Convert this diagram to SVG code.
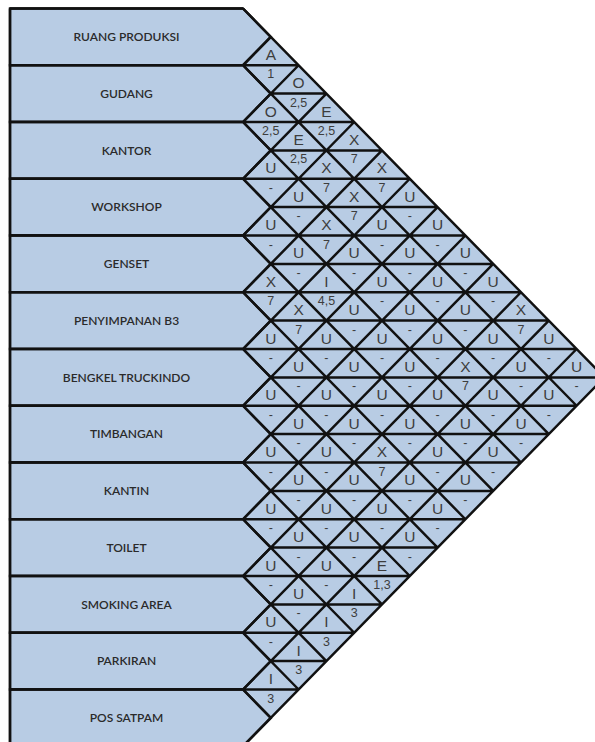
<svg xmlns="http://www.w3.org/2000/svg" width="595" height="742" viewBox="0 0 595 742">
<style>
.box{fill:#b8cce4;stroke:#111;stroke-width:2.4;stroke-linejoin:miter}
.lbl{font-family:Lato,"Liberation Sans",sans-serif;font-size:12px;font-weight:600;fill:#2a2a2a;text-anchor:middle}
.grid{fill:none;stroke:#111;stroke-width:2.5}
.c text{font-family:"Liberation Sans",Arial,sans-serif;fill:#3d3d3d;text-anchor:middle}
.l{font-size:15.5px}
.n{font-size:12.5px}
</style>
<rect width="595" height="742" fill="#fff"/>
<polygon points="243,8.5 604.4,377.4 243,746.25" fill="#b8cce4"/>
<g id="ruang-produksi"><polygon class="box" points="10,8.5 243,8.5 270.8,36.9 243,65.25 10,65.25"/><text class="lbl" x="126.5" y="41.2">RUANG PRODUKSI</text></g>
<g id="gudang"><polygon class="box" points="10,65.25 243,65.25 270.8,93.6 243,122 10,122"/><text class="lbl" x="126.5" y="97.9">GUDANG</text></g>
<g id="kantor"><polygon class="box" points="10,122 243,122 270.8,150.4 243,178.75 10,178.75"/><text class="lbl" x="126.5" y="154.7">KANTOR</text></g>
<g id="workshop"><polygon class="box" points="10,178.75 243,178.75 270.8,207.1 243,235.5 10,235.5"/><text class="lbl" x="126.5" y="211.4">WORKSHOP</text></g>
<g id="genset"><polygon class="box" points="10,235.5 243,235.5 270.8,263.9 243,292.25 10,292.25"/><text class="lbl" x="126.5" y="268.2">GENSET</text></g>
<g id="penyimpanan-b3"><polygon class="box" points="10,292.25 243,292.25 270.8,320.6 243,349 10,349"/><text class="lbl" x="126.5" y="324.9">PENYIMPANAN B3</text></g>
<g id="bengkel-truckindo"><polygon class="box" points="10,349 243,349 270.8,377.4 243,405.75 10,405.75"/><text class="lbl" x="126.5" y="381.7">BENGKEL TRUCKINDO</text></g>
<g id="timbangan"><polygon class="box" points="10,405.75 243,405.75 270.8,434.1 243,462.5 10,462.5"/><text class="lbl" x="126.5" y="438.4">TIMBANGAN</text></g>
<g id="kantin"><polygon class="box" points="10,462.5 243,462.5 270.8,490.9 243,519.25 10,519.25"/><text class="lbl" x="126.5" y="495.2">KANTIN</text></g>
<g id="toilet"><polygon class="box" points="10,519.25 243,519.25 270.8,547.6 243,576 10,576"/><text class="lbl" x="126.5" y="551.9">TOILET</text></g>
<g id="smoking-area"><polygon class="box" points="10,576 243,576 270.8,604.4 243,632.75 10,632.75"/><text class="lbl" x="126.5" y="608.7">SMOKING AREA</text></g>
<g id="parkiran"><polygon class="box" points="10,632.75 243,632.75 270.8,661.1 243,689.5 10,689.5"/><text class="lbl" x="126.5" y="665.4">PARKIRAN</text></g>
<g id="pos-satpam"><polygon class="box" points="10,689.5 243,689.5 270.8,717.9 243,746.25 10,746.25"/><text class="lbl" x="126.5" y="722.2">POS SATPAM</text></g>
<g id="connectors">
<path class="grid" d="M243 8.5L604.4 377.4M243 65.25L576.6 405.75M243 122L548.8 434.1M243 178.75L521 462.5M243 235.5L493.2 490.9M243 292.25L465.4 519.25M243 349L437.6 547.6M243 405.75L409.8 576M243 462.5L382 604.4M243 519.25L354.2 632.75M243 576L326.4 661.1M243 632.75L298.6 689.5M243 689.5L270.8 717.9
M243 65.25L270.8 36.9M243 122L298.6 65.25M243 178.75L326.4 93.6M243 235.5L354.2 122M243 292.25L382 150.4M243 349L409.8 178.75M243 405.75L437.6 207.1M243 462.5L465.4 235.5M243 519.25L493.2 263.9M243 576L521 292.25M243 632.75L548.8 320.6M243 689.5L576.6 349M243 746.25L604.4 377.4
M10 8.5H243M10 65.25H298.6M10 122H354.2M10 178.75H409.8M10 235.5H465.4M10 292.25H521M10 349H576.6M10 405.75H576.6M10 462.5H521M10 519.25H465.4M10 576H409.8M10 632.75H354.2M10 689.5H298.6
M270.8 93.6H326.4M270.8 150.4H382M270.8 207.1H437.6M270.8 263.9H493.2M270.8 320.6H548.8M270.8 377.4H604.4M270.8 434.1H548.8M270.8 490.9H493.2M270.8 547.6H437.6M270.8 604.4H382M270.8 661.1H326.4
M10 8.5V746"/>
</g>
<g id="cells" class="c">
<g transform="translate(270.8,65.25)"><text class="l" y="-5.5">A</text><text class="n" y="13">1</text></g>
<g transform="translate(298.6,93.6)"><text class="l" y="-5.5">O</text><text class="n" y="13">2,5</text></g>
<g transform="translate(326.4,122)"><text class="l" y="-5.5">E</text><text class="n" y="13">2,5</text></g>
<g transform="translate(354.2,150.4)"><text class="l" y="-5.5">X</text><text class="n" y="13">7</text></g>
<g transform="translate(382,178.75)"><text class="l" y="-5.5">X</text><text class="n" y="13">7</text></g>
<g transform="translate(409.8,207.1)"><text class="l" y="-5.5">U</text><text class="n" y="13">-</text></g>
<g transform="translate(437.6,235.5)"><text class="l" y="-5.5">U</text><text class="n" y="13">-</text></g>
<g transform="translate(465.4,263.9)"><text class="l" y="-5.5">U</text><text class="n" y="13">-</text></g>
<g transform="translate(493.2,292.25)"><text class="l" y="-5.5">U</text><text class="n" y="13">-</text></g>
<g transform="translate(521,320.6)"><text class="l" y="-5.5">X</text><text class="n" y="13">7</text></g>
<g transform="translate(548.8,349)"><text class="l" y="-5.5">U</text><text class="n" y="13">-</text></g>
<g transform="translate(576.6,377.4)"><text class="l" y="-5.5">U</text><text class="n" y="13">-</text></g>
<g transform="translate(270.8,122)"><text class="l" y="-5.5">O</text><text class="n" y="13">2,5</text></g>
<g transform="translate(298.6,150.4)"><text class="l" y="-5.5">E</text><text class="n" y="13">2,5</text></g>
<g transform="translate(326.4,178.75)"><text class="l" y="-5.5">X</text><text class="n" y="13">7</text></g>
<g transform="translate(354.2,207.1)"><text class="l" y="-5.5">X</text><text class="n" y="13">7</text></g>
<g transform="translate(382,235.5)"><text class="l" y="-5.5">U</text><text class="n" y="13">-</text></g>
<g transform="translate(409.8,263.9)"><text class="l" y="-5.5">U</text><text class="n" y="13">-</text></g>
<g transform="translate(437.6,292.25)"><text class="l" y="-5.5">U</text><text class="n" y="13">-</text></g>
<g transform="translate(465.4,320.6)"><text class="l" y="-5.5">U</text><text class="n" y="13">-</text></g>
<g transform="translate(493.2,349)"><text class="l" y="-5.5">U</text><text class="n" y="13">-</text></g>
<g transform="translate(521,377.4)"><text class="l" y="-5.5">U</text><text class="n" y="13">-</text></g>
<g transform="translate(548.8,405.75)"><text class="l" y="-5.5">U</text><text class="n" y="13">-</text></g>
<g transform="translate(270.8,178.75)"><text class="l" y="-5.5">U</text><text class="n" y="13">-</text></g>
<g transform="translate(298.6,207.1)"><text class="l" y="-5.5">U</text><text class="n" y="13">-</text></g>
<g transform="translate(326.4,235.5)"><text class="l" y="-5.5">X</text><text class="n" y="13">7</text></g>
<g transform="translate(354.2,263.9)"><text class="l" y="-5.5">U</text><text class="n" y="13">-</text></g>
<g transform="translate(382,292.25)"><text class="l" y="-5.5">U</text><text class="n" y="13">-</text></g>
<g transform="translate(409.8,320.6)"><text class="l" y="-5.5">U</text><text class="n" y="13">-</text></g>
<g transform="translate(437.6,349)"><text class="l" y="-5.5">U</text><text class="n" y="13">-</text></g>
<g transform="translate(465.4,377.4)"><text class="l" y="-5.5">X</text><text class="n" y="13">7</text></g>
<g transform="translate(493.2,405.75)"><text class="l" y="-5.5">U</text><text class="n" y="13">-</text></g>
<g transform="translate(521,434.1)"><text class="l" y="-5.5">U</text><text class="n" y="13">-</text></g>
<g transform="translate(270.8,235.5)"><text class="l" y="-5.5">U</text><text class="n" y="13">-</text></g>
<g transform="translate(298.6,263.9)"><text class="l" y="-5.5">U</text><text class="n" y="13">-</text></g>
<g transform="translate(326.4,292.25)"><text class="l" y="-5.5">I</text><text class="n" y="13">4,5</text></g>
<g transform="translate(354.2,320.6)"><text class="l" y="-5.5">U</text><text class="n" y="13">-</text></g>
<g transform="translate(382,349)"><text class="l" y="-5.5">U</text><text class="n" y="13">-</text></g>
<g transform="translate(409.8,377.4)"><text class="l" y="-5.5">U</text><text class="n" y="13">-</text></g>
<g transform="translate(437.6,405.75)"><text class="l" y="-5.5">U</text><text class="n" y="13">-</text></g>
<g transform="translate(465.4,434.1)"><text class="l" y="-5.5">U</text><text class="n" y="13">-</text></g>
<g transform="translate(493.2,462.5)"><text class="l" y="-5.5">U</text><text class="n" y="13">-</text></g>
<g transform="translate(270.8,292.25)"><text class="l" y="-5.5">X</text><text class="n" y="13">7</text></g>
<g transform="translate(298.6,320.6)"><text class="l" y="-5.5">X</text><text class="n" y="13">7</text></g>
<g transform="translate(326.4,349)"><text class="l" y="-5.5">U</text><text class="n" y="13">-</text></g>
<g transform="translate(354.2,377.4)"><text class="l" y="-5.5">U</text><text class="n" y="13">-</text></g>
<g transform="translate(382,405.75)"><text class="l" y="-5.5">U</text><text class="n" y="13">-</text></g>
<g transform="translate(409.8,434.1)"><text class="l" y="-5.5">U</text><text class="n" y="13">-</text></g>
<g transform="translate(437.6,462.5)"><text class="l" y="-5.5">U</text><text class="n" y="13">-</text></g>
<g transform="translate(465.4,490.9)"><text class="l" y="-5.5">U</text><text class="n" y="13">-</text></g>
<g transform="translate(270.8,349)"><text class="l" y="-5.5">U</text><text class="n" y="13">-</text></g>
<g transform="translate(298.6,377.4)"><text class="l" y="-5.5">U</text><text class="n" y="13">-</text></g>
<g transform="translate(326.4,405.75)"><text class="l" y="-5.5">U</text><text class="n" y="13">-</text></g>
<g transform="translate(354.2,434.1)"><text class="l" y="-5.5">U</text><text class="n" y="13">-</text></g>
<g transform="translate(382,462.5)"><text class="l" y="-5.5">X</text><text class="n" y="13">7</text></g>
<g transform="translate(409.8,490.9)"><text class="l" y="-5.5">U</text><text class="n" y="13">-</text></g>
<g transform="translate(437.6,519.25)"><text class="l" y="-5.5">U</text><text class="n" y="13">-</text></g>
<g transform="translate(270.8,405.75)"><text class="l" y="-5.5">U</text><text class="n" y="13">-</text></g>
<g transform="translate(298.6,434.1)"><text class="l" y="-5.5">U</text><text class="n" y="13">-</text></g>
<g transform="translate(326.4,462.5)"><text class="l" y="-5.5">U</text><text class="n" y="13">-</text></g>
<g transform="translate(354.2,490.9)"><text class="l" y="-5.5">U</text><text class="n" y="13">-</text></g>
<g transform="translate(382,519.25)"><text class="l" y="-5.5">U</text><text class="n" y="13">-</text></g>
<g transform="translate(409.8,547.6)"><text class="l" y="-5.5">U</text><text class="n" y="13">-</text></g>
<g transform="translate(270.8,462.5)"><text class="l" y="-5.5">U</text><text class="n" y="13">-</text></g>
<g transform="translate(298.6,490.9)"><text class="l" y="-5.5">U</text><text class="n" y="13">-</text></g>
<g transform="translate(326.4,519.25)"><text class="l" y="-5.5">U</text><text class="n" y="13">-</text></g>
<g transform="translate(354.2,547.6)"><text class="l" y="-5.5">U</text><text class="n" y="13">-</text></g>
<g transform="translate(382,576)"><text class="l" y="-5.5">E</text><text class="n" y="13">1,3</text></g>
<g transform="translate(270.8,519.25)"><text class="l" y="-5.5">U</text><text class="n" y="13">-</text></g>
<g transform="translate(298.6,547.6)"><text class="l" y="-5.5">U</text><text class="n" y="13">-</text></g>
<g transform="translate(326.4,576)"><text class="l" y="-5.5">U</text><text class="n" y="13">-</text></g>
<g transform="translate(354.2,604.4)"><text class="l" y="-5.5">I</text><text class="n" y="13">3</text></g>
<g transform="translate(270.8,576)"><text class="l" y="-5.5">U</text><text class="n" y="13">-</text></g>
<g transform="translate(298.6,604.4)"><text class="l" y="-5.5">U</text><text class="n" y="13">-</text></g>
<g transform="translate(326.4,632.75)"><text class="l" y="-5.5">I</text><text class="n" y="13">3</text></g>
<g transform="translate(270.8,632.75)"><text class="l" y="-5.5">U</text><text class="n" y="13">-</text></g>
<g transform="translate(298.6,661.1)"><text class="l" y="-5.5">I</text><text class="n" y="13">3</text></g>
<g transform="translate(270.8,689.5)"><text class="l" y="-5.5">I</text><text class="n" y="13">3</text></g>
</g>
</svg>
